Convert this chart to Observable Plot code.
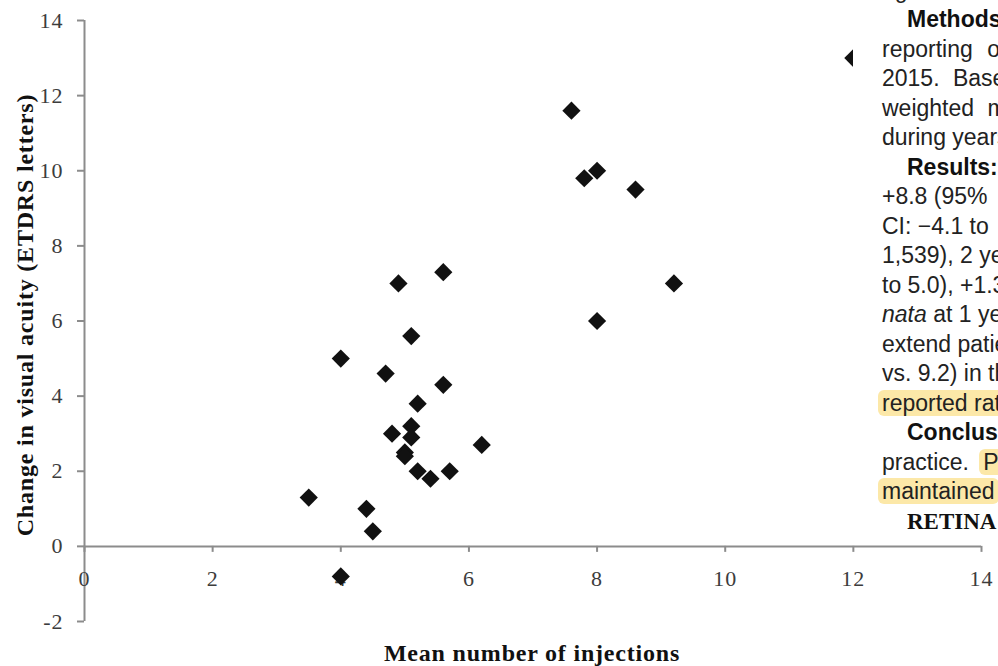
<!DOCTYPE html>
<html>
<head>
<meta charset="utf-8">
<script src="https://cdn.jsdelivr.net/npm/d3@7"></script>
<script src="https://cdn.jsdelivr.net/npm/@observablehq/plot@0.6"></script>
<style>
  html, body { margin: 0; padding: 0; background: #fff; }
  #wrap { position: relative; width: 998px; height: 666px; overflow: hidden; background: #fff; }
  #chart { position: absolute; left: 0; top: 0; }
  .title { position: absolute; font-family: "Liberation Serif", serif; font-weight: bold; font-size: 24px;
           line-height: 24px; letter-spacing: 0.8px; color: #111; white-space: nowrap; text-align: center; }
  #xtitle { left: 282px; width: 500px; top: 641px; }
  #ytitle { left: -225px; width: 500px; top: 303px; transform: rotate(-90deg); transform-origin: 50% 50%; }
  #panel { position: absolute; left: 853px; top: 0; width: 145px; height: 538px; background: #fff; overflow: hidden; }
  #panel .lines { position: absolute; left: 0; top: -24.2px; width: 400px; }
  #panel .ln { height: 29.5px; line-height: 29.5px; white-space: nowrap; font-family: "Liberation Sans", Arial, sans-serif;
               font-size: 23px; color: #222; }
  #panel .ln.b { font-weight: bold; color: #111; }
  #panel .ln.serif { font-family: "Liberation Serif", serif; font-size: 23px; font-weight: bold; color: #111; }
  #panel .hl { background: #fce8a8; border-radius: 6px; padding: 0 4px; margin-left: -4px; }
</style>
</head>
<body>
<div id="wrap">
  <div id="chart"></div>
  <div class="title" id="xtitle">Mean number of injections</div>
  <div class="title" id="ytitle">Change in visual acuity (ETDRS letters)</div>
  <div id="panel"><div class="lines"></div></div>
</div>
<script>
// ---- data ----
const injections = [12, 7.6, 7.8, 8.0, 8.6, 9.2, 8.0, 5.6, 4.9, 5.1, 4.0, 4.7, 5.6, 5.2, 5.1, 4.8, 5.1, 6.2, 5.0, 5.0, 5.2, 5.4, 5.7, 3.5, 4.4, 4.5, 4.0];
const acuityChange = [13, 11.6, 9.8, 10.0, 9.5, 7.0, 6.0, 7.3, 7.0, 5.6, 5.0, 4.6, 4.3, 3.8, 3.2, 3.0, 2.9, 2.7, 2.5, 2.4, 2.0, 1.8, 2.0, 1.3, 1.0, 0.4, -0.8];
const xTicks = [0, 2, 4, 6, 8, 10, 12, 14];
const yTicks = [-2, 0, 2, 4, 6, 8, 10, 12, 14];

// text of the neighbouring page column (clipped at the right edge, as in the reference)
const panelText = ["age-related macular", "Methods:", "reporting on", "2015. Baseline", "weighted mean", "during years",
  "Results:", "+8.8 (95%", "CI: \u22124.1 to", "1,539), 2 years", "to 5.0), +1.3", "nata at 1 year", "extend patients",
  "vs. 9.2) in the", "reported rates", "Conclusions:", "practice.", "maintained", "RETINA"];
const panelTail = {16: "Patients"};        // highlighted word after the line text
const panelKind = ["", "b", "", "", "", "", "b", "", "", "", "", "i", "", "", "hl", "b", "", "hl", "serif"];
const panelSpacing = {2: 8, 3: 7, 4: 7, 16: 8};

const data = injections.map((x, i) => ({x, y: acuityChange[i]}));

const W = 998, H = 666;
const mTop = 20, mBottom = 45, mLeft = 84, mRight = 17;
const yScale = Plot.scale({y: {domain: [-2, 14], range: [H - mBottom, mTop]}});
const axisShift = yScale.apply(0) - yScale.apply(-2);

const axisColor = "#8c8c8c";
const chart = Plot.plot({
  width: W, height: H,
  marginTop: mTop, marginBottom: mBottom, marginLeft: mLeft, marginRight: mRight,
  x: {domain: [0, 14]},
  y: {domain: [-2, 14]},
  style: {fontFamily: "'Liberation Serif', serif", fontSize: "22px", background: "transparent", letterSpacing: "1px"},
  marks: [
    Plot.ruleX([0], {stroke: axisColor, strokeWidth: 2}),
    Plot.ruleY([0], {stroke: axisColor, strokeWidth: 2}),
    Plot.axisY(yTicks, {tickSize: 7, tickPadding: 14, stroke: axisColor, strokeWidth: 2, fill: "#3c3c3c",
      tickFormat: d => String(d), label: null}),
    Plot.axisX(xTicks, {anchor: "bottom", dy: axisShift, tickSize: 6, tickPadding: 18, stroke: axisColor, strokeWidth: 2,
      fill: "#3c3c3c", tickFormat: d => String(d), label: null}),
    Plot.dot(data, {x: "x", y: "y", symbol: "diamond2", r: 8.2, fill: "#111"})
  ]
});
document.getElementById("chart").appendChild(chart);

// page column
const linesEl = document.querySelector("#panel .lines");
panelText.forEach((t, i) => {
  const d = document.createElement("div");
  const kind = panelKind[i];
  d.className = "ln" + (kind === "b" ? " b" : "") + (kind === "serif" ? " serif" : "");
  d.style.paddingLeft = (kind === "b" || kind === "serif") ? "54px" : "29px";
  if (panelSpacing[i]) d.style.wordSpacing = panelSpacing[i] + "px";
  if (kind === "hl") {
    const s = document.createElement("span"); s.className = "hl"; s.textContent = t; d.appendChild(s);
  } else if (kind === "i") {
    const em = document.createElement("em"); em.textContent = "nata"; d.appendChild(em);
    d.appendChild(document.createTextNode(t.slice(4)));
  } else {
    d.appendChild(document.createTextNode(t));
  }
  if (panelTail[i]) {
    d.appendChild(document.createTextNode(" "));
    const s = document.createElement("span"); s.className = "hl"; s.textContent = panelTail[i]; d.appendChild(s);
  }
  linesEl.appendChild(d);
});
</script>
</body>
</html>
